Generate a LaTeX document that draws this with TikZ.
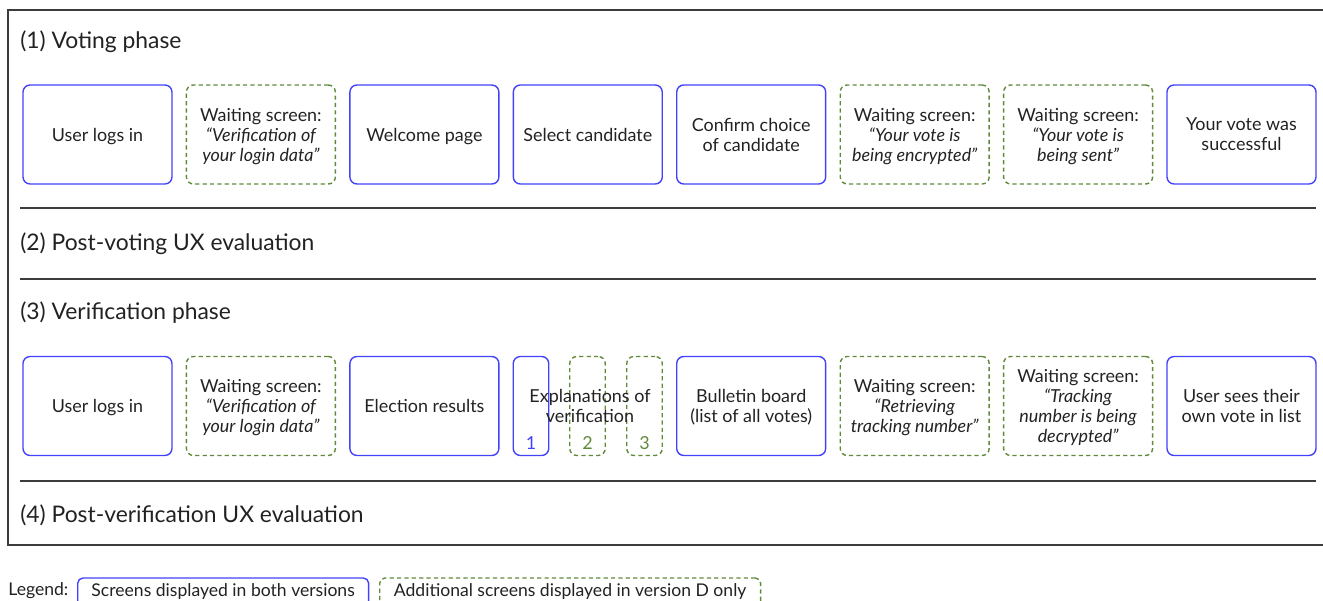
\documentclass[tikz,border=0pt]{standalone}
\usepackage{fontspec}
\setmainfont{Lato}
\definecolor{screenblue}{RGB}{66,66,250}
\definecolor{extragreen}{RGB}{96,138,58}
\definecolor{inktext}{RGB}{34,34,34}
\definecolor{rulegray}{RGB}{60,60,60}

\tikzset{
  bothscreen/.style={draw=screenblue, line width=0.8pt, rounded corners=4pt,
    minimum width=2.98cm, minimum height=1.98cm, align=center, inner sep=1pt,
    text=inktext, text depth=-3.2pt, font=\fontsize{10.2}{11.4}\selectfont},
  extrascreen/.style={bothscreen, draw=extragreen, dash pattern=on 2.4pt off 1.8pt},
  slimscreen/.style={minimum width=0.71cm, minimum height=1.98cm},
  phasetitle/.style={anchor=west, inner sep=0pt, text=inktext, font=\fontsize{13}{15}\selectfont},
  legendbox/.style={line width=0.8pt, rounded corners=3pt, minimum height=0.56cm,
    inner xsep=6pt, text=inktext, font=\fontsize{10}{12}\selectfont}
}

\begin{document}
\begin{tikzpicture}[x=0.02cm, y=-0.02cm]
		\useasboundingbox (0, 0) rectangle (1323, 601);
		\clip (0, 0) rectangle (1323, 601);
		%%%%% FRAME %%%%%
		\draw[rulegray, line width=0.6pt] (1330, 10) -- (8, 10) -- (8, 545) -- (1330, 545);
		\draw[rulegray, line width=0.6pt] (20, 208) -- (1316, 208);
		\draw[rulegray, line width=0.6pt] (20, 279) -- (1316, 279);
		\draw[rulegray, line width=0.6pt] (20, 481) -- (1316, 481);
		
		\node[phasetitle] (voting) at (20, 42) {(1) Voting phase};
		\node[phasetitle] (postvoting) at (20, 244) {(2) Post-voting UX evaluation};
		\node[phasetitle] (verification) at (20, 313) {(3) Verification phase};
		\node[phasetitle] (postverification) at (20, 515) {(4) Post-verification UX evaluation};
		
		%%%%% VOTING %%%%%
		\node[bothscreen] (vlogin) at (97.5, 134.5) {User logs in};
		\node[extrascreen] (vwaitlogin) at (260.9, 134.5) {Waiting screen:\\\itshape “Verification of\\\itshape your login data”};
		\node[bothscreen] (welcome) at (424.4, 134.5) {Welcome page};
		\node[bothscreen] (select) at (587.8, 134.5) {Select candidate};
		\node[bothscreen] (confirm) at (751.2, 134.5) {Confirm choice\\of candidate};
		\node[extrascreen] (encrypt) at (914.7, 134.5) {Waiting screen:\\\itshape “Your vote is\\\itshape being encrypted”};
		\node[extrascreen] (sent) at (1078.1, 134.5) {Waiting screen:\\\itshape “Your vote is\\\itshape being sent”};
		\node[bothscreen] (success) at (1241.5, 134.5) {Your vote was\\successful};
		
		%%%%% VERIFICATION %%%%%
		\node[bothscreen] (clogin) at (97.5, 406) {User logs in};
		\node[extrascreen] (cwaitlogin) at (260.9, 406) {Waiting screen:\\\itshape “Verification of\\\itshape your login data”};
		\node[bothscreen] (results) at (424.4, 406) {Election results};
		\node[bothscreen, slimscreen] (expone) at (531, 406) {};
		\node[extrascreen, slimscreen] (exptwo) at (587.5, 406) {};
		\node[extrascreen, slimscreen] (expthree) at (644.5, 406) {};
		\node[text=screenblue, font=\fontsize{10.2}{11.4}\selectfont] (numone) at (531, 443) {1};
		\node[text=extragreen, font=\fontsize{10.2}{11.4}\selectfont] (numtwo) at (587.5, 443) {2};
		\node[text=extragreen, font=\fontsize{10.2}{11.4}\selectfont] (numthree) at (644.5, 443) {3};
		\node[align=center, text=inktext, text depth=0pt, font=\fontsize{10.2}{11.4}\selectfont] (explain) at (590, 406) {Explanations of\\verification};
		\node[bothscreen] (bulletin) at (751.2, 406) {Bulletin board\\(list of all votes)};
		\node[extrascreen] (retrieve) at (914.7, 406) {Waiting screen:\\\itshape “Retrieving\\\itshape tracking number”};
		\node[extrascreen] (decrypt) at (1078.1, 406) {Waiting screen:\\\itshape “Tracking\\\itshape number is being\\\itshape decrypted”};
		\node[bothscreen] (ownvote) at (1241.5, 406) {User sees their\\own vote in list};
		
		%%%%% LEGEND %%%%%
		\node[anchor=west, inner sep=0pt, text=inktext, font=\fontsize{10}{12}\selectfont] (legend) at (8, 591) {Legend:};
		\node[legendbox, draw=screenblue, anchor=west, minimum width=5.82cm] (legboth) at (77, 592) {Screens displayed in both versions};
		\node[legendbox, draw=extragreen, dash pattern=on 2.4pt off 1.8pt, anchor=west, minimum width=7.62cm] (legextra) at (379, 592) {Additional screens displayed in version D only};
\end{tikzpicture}
\end{document}
